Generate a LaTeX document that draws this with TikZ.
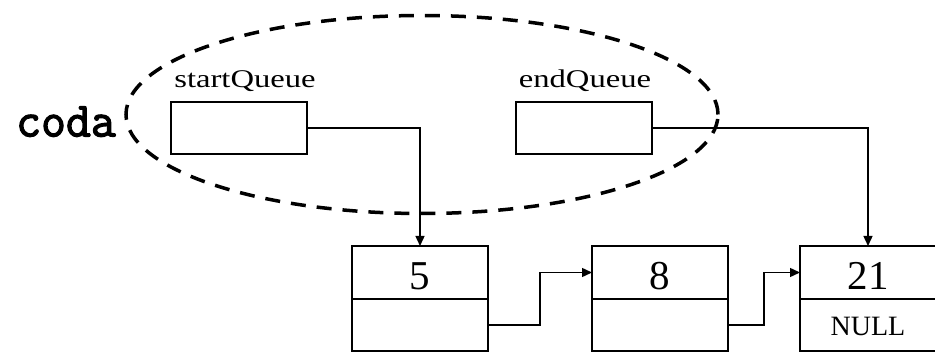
\documentclass[tikz,border=0pt]{standalone}
\usepackage{fontspec}
\setmainfont{Liberation Serif}
\newfontfamily\codafont[FakeBold=2.5]{Latin Modern Mono}
\usetikzlibrary{arrows.meta,shapes.geometric,calc}
\tikzset{
  ptrbox/.style={draw, line width=1.4pt, minimum width=136pt, minimum height=52pt, inner sep=0pt, outer sep=0pt},
  valbox/.style={draw, line width=1.4pt, minimum width=136pt, minimum height=53pt, inner sep=0pt, outer sep=0pt,
    font=\fontsize{41}{41}\selectfont, text height=35pt, text depth=0pt},
  nullbox/.style={ptrbox, font=\fontsize{28}{28}\selectfont, text height=22pt, text depth=0pt},
  link/.style={line width=1.4pt, -{Triangle[length=10pt,width=9pt]}},
  lbl/.style={font=\fontsize{25.5}{26}\selectfont, inner sep=0pt, anchor=base},
  wrap/.style={draw, ellipse, dash pattern=on 15pt off 11pt, line width=3.5pt, inner sep=0pt,
    minimum width=592pt, minimum height=198pt},
}
\begin{document}
\begin{tikzpicture}[x=1pt,y=-1pt]
\useasboundingbox (0,0) rectangle (935,352);
% enclosing dashed ellipse
\node[wrap] (ell) at (422,114.5) {};
\node[font=\codafont\fontsize{41}{41}\selectfont, inner sep=0pt, anchor=base] (coda) at (66,136.5) {\scalebox{1.18}[1.2]{coda}};
% pointer boxes
\node[lbl] (sqlbl) at (245,87.7) {\scalebox{1.28}[1]{startQueue}};
\node[lbl] (eqlbl) at (585,87.3) {\scalebox{1.28}[1]{endQueue}};
\node[ptrbox] (sq) at (239,128) {};
\node[ptrbox] (eq) at (584,128) {};
% list nodes
\node[valbox] (v5) at (420,272.5) {5};
\node[ptrbox] (p5) at (420,325) {};
\node[valbox] (v8) at (660,272.5) {8};
\node[ptrbox] (p8) at (660,325) {};
\node[valbox] (v21) at (868,272.5) {21};
\node[nullbox] (p21) at (868,325) {NULL};
% connectors
\draw[link] (sq.east) -| (v5.north);
\draw[link] (eq.east) -| (v21.north);
\draw[link] (p5.east) -| ($(p5.east)!0.5!(v8.west)$) |- (v8.west);
\draw[link] (p8.east) -| ($(p8.east)!0.5!(v21.west)$) |- (v21.west);
\end{tikzpicture}
\end{document}
